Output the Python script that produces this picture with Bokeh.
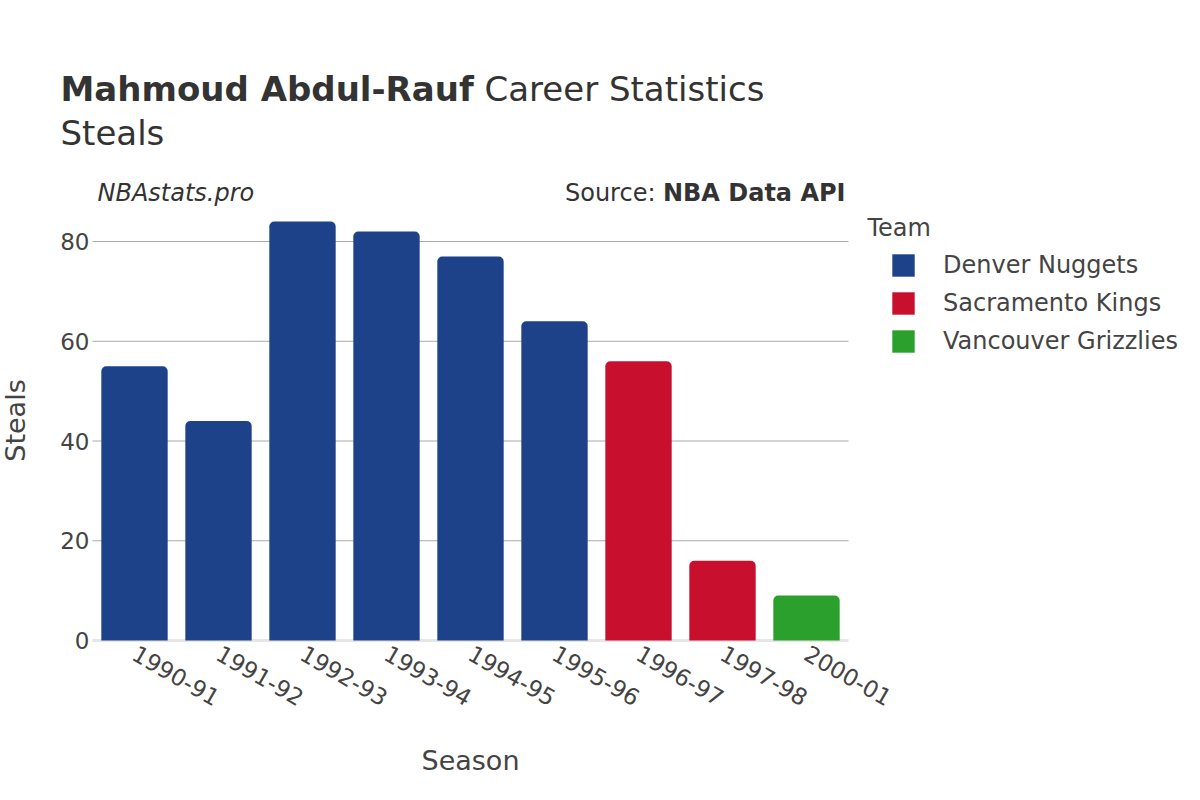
import math
from bokeh.plotting import figure
from bokeh.models import (Range1d, Label, Legend, LegendItem, FixedTicker,
                          ColumnDataSource)
from bokeh.embed import file_html
from bokeh.resources import INLINE

# ---- data ----
seasons = ["1990-91", "1991-92", "1992-93", "1993-94", "1994-95",
           "1995-96", "1996-97", "1997-98", "2000-01"]
steals = [55, 44, 84, 82, 77, 64, 56, 16, 9]
teams = ["Denver Nuggets", "Denver Nuggets", "Denver Nuggets", "Denver Nuggets",
         "Denver Nuggets", "Denver Nuggets", "Sacramento Kings", "Sacramento Kings",
         "Vancouver Grizzlies"]
team_order = ["Denver Nuggets", "Sacramento Kings", "Vancouver Grizzlies"]
team_colors = {"Denver Nuggets": "#1D428A",
               "Sacramento Kings": "#C8102E",
               "Vancouver Grizzlies": "#2CA02C"}
y_ticks = [0, 20, 40, 60, 80]

FONT = "DejaVu Sans"
TXT = "#333333"
TICK = "#444444"

# ---- layout (page pixels) ----
W, H = 1184, 784
PLOT_L, PLOT_R, PLOT_B = 92, 848, 640        # plotting area
N = len(seasons)
PX_X = (PLOT_R - PLOT_L) / N                  # pixels per category
PX_Y = (640 - 241) / 80.0                     # pixels per steal

x_range = Range1d(-PLOT_L / PX_X - 0.5, (W - PLOT_L) / PX_X - 0.5)
y_range = Range1d(-(H - PLOT_B) / PX_Y, PLOT_B / PX_Y)

p = figure(width=W, height=H, x_range=x_range, y_range=y_range,
           output_backend="svg", toolbar_location=None, min_border=0)
p.outline_line_color = None
p.xgrid.visible = False
p.ygrid.visible = False

xpos = list(range(N))

# grid lines and zero line across the category span
grid_vals = [v for v in y_ticks if v != 0]
p.segment(x0=[-0.5] * len(grid_vals), x1=[N - 0.5] * len(grid_vals),
          y0=grid_vals, y1=grid_vals, line_color="#aaaaaa", line_width=1,
          level="underlay")
p.segment(x0=[-0.5], x1=[N - 0.5], y0=[0], y1=[0], line_color="#e6e6e6",
          line_width=3, level="underlay")

items = []
for t in team_order:
    xs = [x for x, tt in zip(xpos, teams) if tt == t]
    ys = [v for v, tt in zip(steals, teams) if tt == t]
    src = ColumnDataSource(dict(x=xs, top=ys))
    r = p.vbar(x="x", top="top", width=0.79, source=src, fill_color=team_colors[t],
               line_color=None, border_radius=(5, 5, 0, 0))
    items.append(LegendItem(label=t, renderers=[r]))

legend = Legend(items=items, location=(889, H - 355), padding=0, margin=0,
                spacing=10, glyph_width=28, glyph_height=28, label_standoff=26,
                border_line_color=None, background_fill_alpha=0,
                label_text_font=FONT, label_text_font_size="24px",
                label_text_color=TICK)
p.add_layout(legend, "center")

# axes drawn at the plotting-area edges
p.yaxis.fixed_location = -0.5
p.xaxis.fixed_location = 0
p.yaxis.ticker = FixedTicker(ticks=y_ticks)
p.xaxis.ticker = FixedTicker(ticks=xpos)
p.xaxis.major_label_overrides = {i: s for i, s in zip(xpos, seasons)}
for ax in (p.xaxis[0], p.yaxis[0]):
    ax.axis_line_color = None
    ax.major_tick_line_color = None
    ax.minor_tick_line_color = None
    ax.major_tick_out = 0
    ax.major_tick_in = 0
    ax.major_label_text_font = FONT
    ax.major_label_text_font_size = "23px"
    ax.major_label_text_color = TICK
p.yaxis.major_label_standoff = 3
p.xaxis.major_label_standoff = 11
p.xaxis.major_label_orientation = -math.pi / 6


def lab(X, Y, text, size, style="normal", align="left", angle=0, color=TXT):
    p.add_layout(Label(x=X, y=H - Y, x_units="screen", y_units="screen",
                       text=text, text_font=FONT, text_font_size=size,
                       text_font_style=style, text_align=align,
                       text_baseline="alphabetic", text_color=color, angle=angle))


lab(60, 88, "Mahmoud Abdul-Rauf", "34px", "bold")
lab(484, 88, "Career Statistics", "34px")
lab(60, 132, "Steals", "34px")
lab(97, 192, "NBAstats.pro", "24px", "italic")
lab(845, 192, "NBA Data API", "24px", "bold", align="right")
lab(655, 192, "Source:", "24px", align="right")
lab(867, 227, "Team", "24px", color=TICK)
lab(15, 420, "Steals", "27px", align="center", angle=math.pi / 2, color=TICK)
lab(470, 760, "Season", "27px", align="center", color=TICK)

open("out.html", "w").write(file_html(p, INLINE))
